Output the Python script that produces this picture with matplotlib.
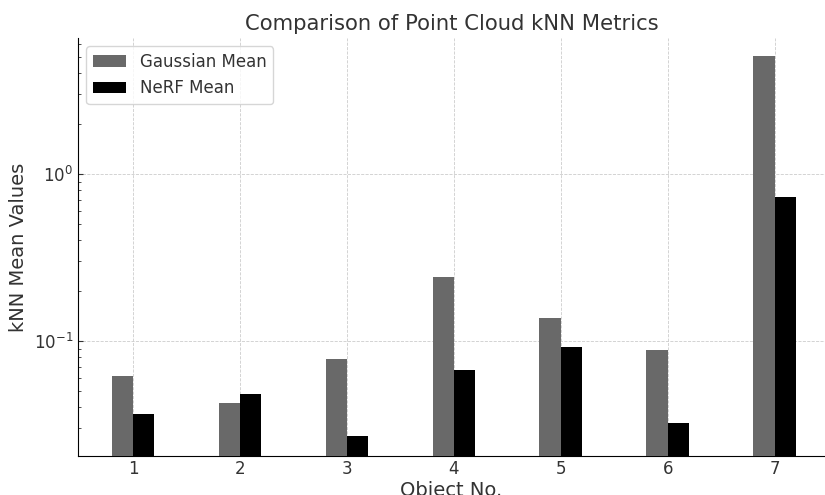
import matplotlib
matplotlib.use("Agg")
import matplotlib.pyplot as plt
import numpy as np

objects = [1, 2, 3, 4, 5, 6, 7]
gaussian_mean = [0.0617, 0.0426, 0.078, 0.2415, 0.1375, 0.0883, 5.09]
nerf_mean = [0.0366, 0.0482, 0.027, 0.067, 0.092, 0.0323, 0.728]

txt = "#333333"
plt.rcParams.update({
    "font.family": "DejaVu Sans",
    "text.color": txt,
    "axes.labelcolor": txt,
    "xtick.color": txt,
    "ytick.color": txt,
})

fig = plt.figure(figsize=(8.25, 4.95), dpi=100)
ax = fig.add_axes([78 / 825, 1 - 456 / 495, (825 - 78) / 825, (456 - 38) / 495])

x = np.array(objects, dtype=float)
w = 0.2
ax.bar(x - w / 2, gaussian_mean, w, color="dimgray", label="Gaussian Mean", zorder=3)
ax.bar(x + w / 2, nerf_mean, w, color="black", label="NeRF Mean", zorder=3)

ax.set_yscale("log")
ax.set_ylim(0.0205, 6.5)
ax.set_xlim(0.485, 7.47)
ax.set_xticks(x)
ax.set_xticklabels([str(o) for o in objects])

ax.grid(True, linestyle="--", linewidth=0.6, color="#cccccc", zorder=0)
ax.tick_params(axis="both", which="both", direction="in", labelsize=12)
ax.tick_params(axis="x", length=0, pad=3)
for s in ["top", "right"]:
    ax.spines[s].set_visible(False)

ax.set_title("Comparison of Point Cloud kNN Metrics", fontsize=15.2, pad=6)
ax.set_xlabel("Object No.", fontsize=14, labelpad=2)
ax.set_ylabel("kNN Mean Values", fontsize=14, labelpad=4)
ax.legend(loc="upper left", fontsize=12, framealpha=0.8)

fig.savefig("out.png", dpi=100)
